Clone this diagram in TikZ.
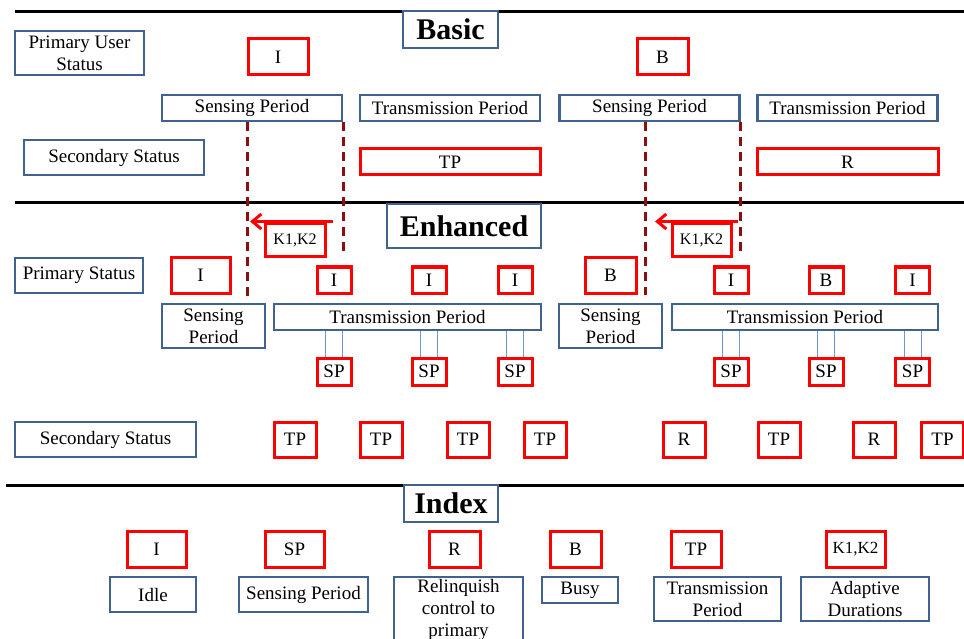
\documentclass[tikz,border=0pt]{standalone}
\usepackage{fontspec}
\setmainfont{Liberation Serif}
\usetikzlibrary{arrows.meta}
\definecolor{boxblue}{RGB}{63,98,145}
\definecolor{linkblue}{RGB}{110,150,210}
\definecolor{cutred}{RGB}{140,15,15}

\begin{document}
\begin{tikzpicture}[x=1pt, y=-1pt,
    bbox/.style={draw=boxblue, line width=2.8pt, fill=white, inner sep=1pt, align=center, font=\fontsize{19}{22}\selectfont},
    rbox/.style={draw=red, line width=3pt, fill=white, inner sep=1pt, align=center, font=\fontsize{19}{22}\selectfont},
    kbox/.style={rbox, font=\fontsize{16}{18}\selectfont},
    title/.style={bbox, font=\fontsize{30}{32}\selectfont\bfseries},
    sep/.style={line width=3pt},
    cut/.style={draw=cutred, line width=3pt, dash pattern=on 9pt off 6pt},
    moveback/.style={draw=red, line width=3pt, -{Straight Barb[length=9pt,width=15pt]}},
    link/.style={draw=linkblue, line width=1pt}]
    \useasboundingbox (0,0) rectangle (964,639);
    \clip (0,0) rectangle (964,639);

    \draw[sep] (15,12) -- (964,12);
    \draw[sep] (15,203) -- (964,203);
    \draw[sep] (6,485) -- (964,485);

    % basic scheme
    \node[title, minimum width=95, minimum height=37] (basic) at (450.5,29.5) {Basic};
    \node[bbox, minimum width=129, minimum height=44] (pus) at (79.5,53) {Primary User\\Status};
    \node[rbox, minimum width=60, minimum height=36] (bi) at (278,57) {I};
    \node[rbox, minimum width=51, minimum height=36] (bb) at (662.5,57) {B};
    \foreach \n/\x/\lab in {bs1/252/Sensing Period, bt1/450/Transmission Period, bs2/649.5/Sensing Period, bt2/847.5/Transmission Period}
      \node[bbox, minimum width=180, minimum height=26] (\n) at (\x,108) {\lab};
    \node[bbox, minimum width=180, minimum height=35] (bss) at (114,157.5) {Secondary Status};
    \node[rbox, minimum width=180, minimum height=26] (btp) at (450,162) {TP};
    \node[rbox, minimum width=181, minimum height=26] (br) at (847.5,162) {R};

    % enhanced scheme
    \node[title, minimum width=154, minimum height=44] (enh) at (464,226) {Enhanced};
    \node[kbox, minimum width=60, minimum height=33] (k1) at (295,240.5) {K1,K2};
    \node[kbox, minimum width=59, minimum height=33] (k2) at (701.5,240.5) {K1,K2};

    \coordinate (c1) at (247,297);
    \coordinate (c2) at (343,255);
    \coordinate (c3) at (645,295);
    \coordinate (c4) at (740,253);
    \draw[cut] (c1 |- bs1.south) -- (c1);
    \draw[cut] (c2 |- bs1.south) -- (c2);
    \draw[cut] (c3 |- bs2.south) -- (c3);
    \draw[cut] (c4 |- bs2.south) -- (c4);
    \draw[moveback] ([xshift=-10pt,yshift=1pt]c2 |- k1.north) -- ([xshift=3pt,yshift=1pt]c1 |- k1.north);
    \draw[moveback] ([xshift=-2pt,yshift=1pt]c4 |- k2.north) -- ([xshift=10pt,yshift=1pt]c3 |- k2.north);

    \node[bbox, minimum width=128, minimum height=35] (ps) at (79,275.5) {Primary Status};
    \node[rbox, minimum width=59, minimum height=35] (ei) at (200.5,275.5) {I};
    \node[rbox, minimum width=51, minimum height=35] (eb) at (610.5,275.5) {B};
    \node[bbox, minimum width=103, minimum height=44] (es1) at (213.5,326) {Sensing\\Period};
    \node[bbox, minimum width=103, minimum height=44] (es2) at (610.5,326) {Sensing\\Period};
    \node[bbox, minimum width=267, minimum height=26] (et1) at (407.5,317) {Transmission Period};
    \node[bbox, minimum width=266, minimum height=26] (et2) at (805,317) {Transmission Period};
    \foreach \i/\x/\lab/\per in {1/334/I/et1, 2/429/I/et1, 3/515/I/et1, 4/731/I/et2, 5/826/B/et2, 6/912.5/I/et2} {
      \node[rbox, minimum width=34, minimum height=26] (p\i) at (\x,280) {\lab};
      \node[rbox, minimum width=34, minimum height=27] (s\i) at (\x,371.5) {SP};
      \draw[link] ([xshift=-8.5pt]s\i.north) -- ([xshift=-8.5pt]s\i.north |- \per.south);
      \draw[link] ([xshift=8.5pt]s\i.north) -- ([xshift=8.5pt]s\i.north |- \per.south);
    }

    \node[bbox, minimum width=181, minimum height=35] (ess) at (105.5,439.5) {Secondary Status};
    \foreach \i/\x/\lab in {1/295/TP, 2/381/TP, 3/468/TP, 4/545/TP, 5/684/R, 6/779/TP, 7/874/R, 8/942.5/TP}
      \node[rbox, minimum width=42, minimum height=35] (q\i) at (\x,439.5) {\lab};

    % index
    \node[title, minimum width=94, minimum height=37] (idx) at (451,503.5) {Index};
    \foreach \i/\x/\w/\lab in {1/156.5/59/I, 2/294.5/59/SP, 3/454.5/51/R, 4/575.5/51/B, 5/696/50/TP}
      \node[rbox, minimum width=\w, minimum height=36] (r\i) at (\x,549) {\lab};
    \node[rbox, minimum width=59, minimum height=36, font=\fontsize{17}{20}\selectfont] (r6) at (855.5,549) {K1,K2};
    \node[bbox, minimum width=86, minimum height=35] (l1) at (153,594.5) {Idle};
    \node[bbox, minimum width=129, minimum height=35] (l2) at (303.5,594.5) {Sensing Period};
    \node[bbox, minimum width=129, minimum height=66] (l3) at (458.5,610) {Relinquish\\control to\\primary};
    \node[bbox, minimum width=76, minimum height=26] (l4) at (580,590) {Busy};
    \node[bbox, minimum width=127, minimum height=44] (l5) at (717.5,599) {Transmission\\Period};
    \node[bbox, minimum width=128, minimum height=44] (l6) at (865,599) {Adaptive\\Durations};
\end{tikzpicture}
\end{document}
